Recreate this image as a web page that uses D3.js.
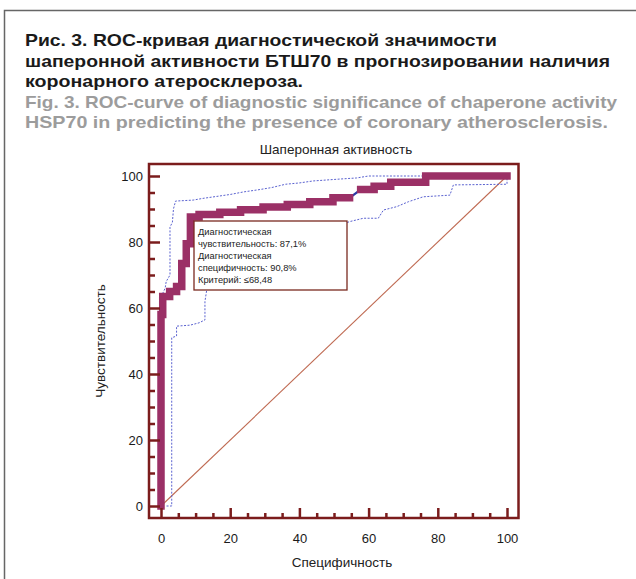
<!DOCTYPE html>
<html>
<head>
<meta charset="utf-8">
<script src="https://cdn.jsdelivr.net/npm/d3@7"></script>
<style>
  body { margin: 0; background: #fff; }
  svg { display: block; font-family: "Liberation Sans", Arial, sans-serif; }
</style>
</head>
<body>
<svg id="chart" width="636" height="579"></svg>
<script>
// caption lines (ru bold, en gray)
const captionRu = [
    "Рис. 3. ROC-кривая диагностической значимости",
    "шаперонной активности БТШ70 в прогнозировании наличия",
    "коронарного атеросклероза."
];
const captionEn = [
    "Fig. 3. ROC-curve of diagnostic significance of chaperone activity",
    "HSP70 in predicting the presence of coronary atherosclerosis."
];
const captionWidths = [472, 585, 278, 592, 583];

// ROC curve, [100 - specificity, sensitivity]
const roc = [
    [0, 0], [0, 58], [0.5, 58], [0.5, 63.5], [2.5, 63.5], [2.5, 65], [4.5, 65], [4.5, 66.5],
    [6, 66.5], [6, 73.5], [7.3, 73.5], [7.3, 79.5], [8.5, 79.5], [8.5, 87.6], [11, 87.6],
    [11, 88.3], [17, 88.3], [17, 89], [23, 89], [23, 89.8], [29.5, 89.8], [29.5, 90.6],
    [36.5, 90.6], [36.5, 91.4], [43, 91.4], [43, 92.2], [49.7, 92.2], [49.7, 93.4], [54.5, 93.4],
    [57.7, 95.9], [61.6, 95.9], [61.6, 96.9], [66.4, 96.9], [66.4, 98.1], [76.5, 98.1],
    [76.5, 100], [100, 100]
];
// part of the curve drawn thin only
const thinGap = [54.5, 57.7];

const upperBand = [
    [0, 58], [0.3, 64], [1.2, 66], [1.5, 68], [2.6, 70], [2.6, 84.5], [3.3, 86], [3.6, 90],
    [4.2, 92.4], [9.3, 92.7], [12, 93.2], [16, 93.8], [20, 94.4], [24, 95.2], [28, 95.8],
    [32, 96.5], [36, 97.5], [40, 97.9], [44, 98.5], [48, 98.8], [52, 99.1], [56.5, 99.4],
    [60, 100], [100, 100]
];
const lowerBand = [
    [1.6, 0], [3.1, 0], [3.1, 51], [4.5, 51.5], [4.5, 54.5], [8.4, 54.8], [11, 55.5],
    [12.7, 56.4], [12.7, 62], [13.3, 66], [20, 72], [35, 79], [50, 84.5], [54.6, 86.2],
    [58.5, 87.2], [62.8, 87.2], [64.3, 89.7], [68.1, 90.7], [71.5, 92.2], [75.8, 93.7],
    [83.5, 94.2], [84.5, 97.3], [100, 97.5], [100, 100]
];

const majorTicks = [0, 20, 40, 60, 80, 100];
const minorTicks = d3.range(0, 101, 5).filter(v => v % 20 !== 0);

const boxLines = [
    "Диагностическая",
    "чувствительность: 87,1%",
    "Диагностическая",
    "специфичность: 90,8%",
    "Критерий: ≤68,48"
];

const svg = d3.select("#chart"),
    frame = {left: 149, top: 164, right: 518.5, bottom: 518},
    x = d3.scaleLinear().domain([0, 100]).range([161, 507]),
    y = d3.scaleLinear().domain([0, 100]).range([506, 176]),
    axisColor = "#7b1c1c",
    line = d3.line().x(d => x(d[0])).y(d => y(d[1]));

// page border (top + left)
svg.append("path")
    .attr("d", "M4.5,579V10.5H636")
    .attr("fill", "none")
    .attr("stroke", "#666")
    .attr("stroke-width", 1.5);

// caption
const cap = svg.append("g").attr("font-weight", "bold").attr("font-size", 17);
captionRu.concat(captionEn).forEach((t, i) => {
    cap.append("text")
        .attr("x", 25)
        .attr("y", 46 + i * 20.5)
        .attr("fill", i < 3 ? "#1a1a1a" : "#9c9c9c")
        .attr("textLength", captionWidths[i])
        .attr("lengthAdjust", "spacingAndGlyphs")
        .text(t);
});

// chart title
svg.append("text")
    .attr("x", 336)
    .attr("y", 154)
    .attr("text-anchor", "middle")
    .attr("font-size", 13.5)
    .attr("fill", "#222")
    .text("Шаперонная активность");

// diagonal reference
svg.append("path")
    .datum([[0, 0], [100, 100]])
    .attr("d", line)
    .attr("fill", "none")
    .attr("stroke", "#bf6a52")
    .attr("stroke-width", 1.1);

// confidence bands
[upperBand, lowerBand].forEach(b => {
    svg.append("path")
        .datum(b)
        .attr("d", line)
        .attr("fill", "none")
        .attr("stroke", "#5a62d0")
        .attr("stroke-width", 1)
        .attr("stroke-dasharray", "2,1.5");
});

// ROC thin line, then the thick overlay
svg.append("path")
    .datum(roc)
    .attr("d", line)
    .attr("fill", "none")
    .attr("stroke", "#2b3aa6")
    .attr("stroke-width", 2.2);

[roc.filter(d => d[0] <= thinGap[0]), roc.filter(d => d[0] >= thinGap[1])].forEach(part => {
    svg.append("path")
        .datum(part)
        .attr("d", line)
        .attr("fill", "none")
        .attr("stroke", "#9b3066")
        .attr("stroke-width", 7.5)
        .attr("stroke-linecap", "square")
        .attr("stroke-linejoin", "miter");
});

// frame
svg.append("rect")
    .attr("x", frame.left)
    .attr("y", frame.top)
    .attr("width", frame.right - frame.left)
    .attr("height", frame.bottom - frame.top)
    .attr("fill", "none")
    .attr("stroke", axisColor)
    .attr("stroke-width", 2.5);

// axes, ticks pointing inwards
function styleAxis(g) {
    g.select(".domain").remove();
    g.selectAll(".tick line").attr("stroke", axisColor).attr("stroke-width", 2.5);
    g.selectAll(".tick text").attr("fill", "#1a1a1a").attr("font-size", 13);
}
svg.append("g")
    .attr("transform", `translate(${frame.left},0)`)
    .call(d3.axisLeft(y).tickValues(majorTicks).tickSize(-11).tickPadding(6))
    .call(styleAxis);
svg.append("g")
    .attr("transform", `translate(${frame.left},0)`)
    .call(d3.axisLeft(y).tickValues(minorTicks).tickSize(-6).tickFormat(""))
    .call(styleAxis);
svg.append("g")
    .attr("transform", `translate(0,${frame.bottom})`)
    .call(d3.axisBottom(x).tickValues(majorTicks).tickSize(-10).tickPadding(16))
    .call(styleAxis);
svg.append("g")
    .attr("transform", `translate(0,${frame.bottom})`)
    .call(d3.axisBottom(x).tickValues(minorTicks).tickSize(-5).tickFormat(""))
    .call(styleAxis);

// axis titles
svg.append("text")
    .attr("x", 342)
    .attr("y", 567)
    .attr("text-anchor", "middle")
    .attr("font-size", 13.5)
    .attr("fill", "#222")
    .text("Специфичность");
svg.append("text")
    .attr("transform", "translate(105,341) rotate(-90)")
    .attr("text-anchor", "middle")
    .attr("font-size", 13.5)
    .attr("fill", "#222")
    .text("Чувствительность");

// annotation box
const box = svg.append("g").attr("transform", "translate(194,221)");
box.append("rect")
    .attr("width", 153)
    .attr("height", 69)
    .attr("fill", "#fff")
    .attr("stroke", "#7a2a20")
    .attr("stroke-width", 1.3);
boxLines.forEach((t, i) => {
    box.append("text")
        .attr("x", 4)
        .attr("y", 14 + i * 12)
        .attr("font-size", 9.3)
        .attr("fill", "#222")
        .text(t);
});
</script>
</body>
</html>
